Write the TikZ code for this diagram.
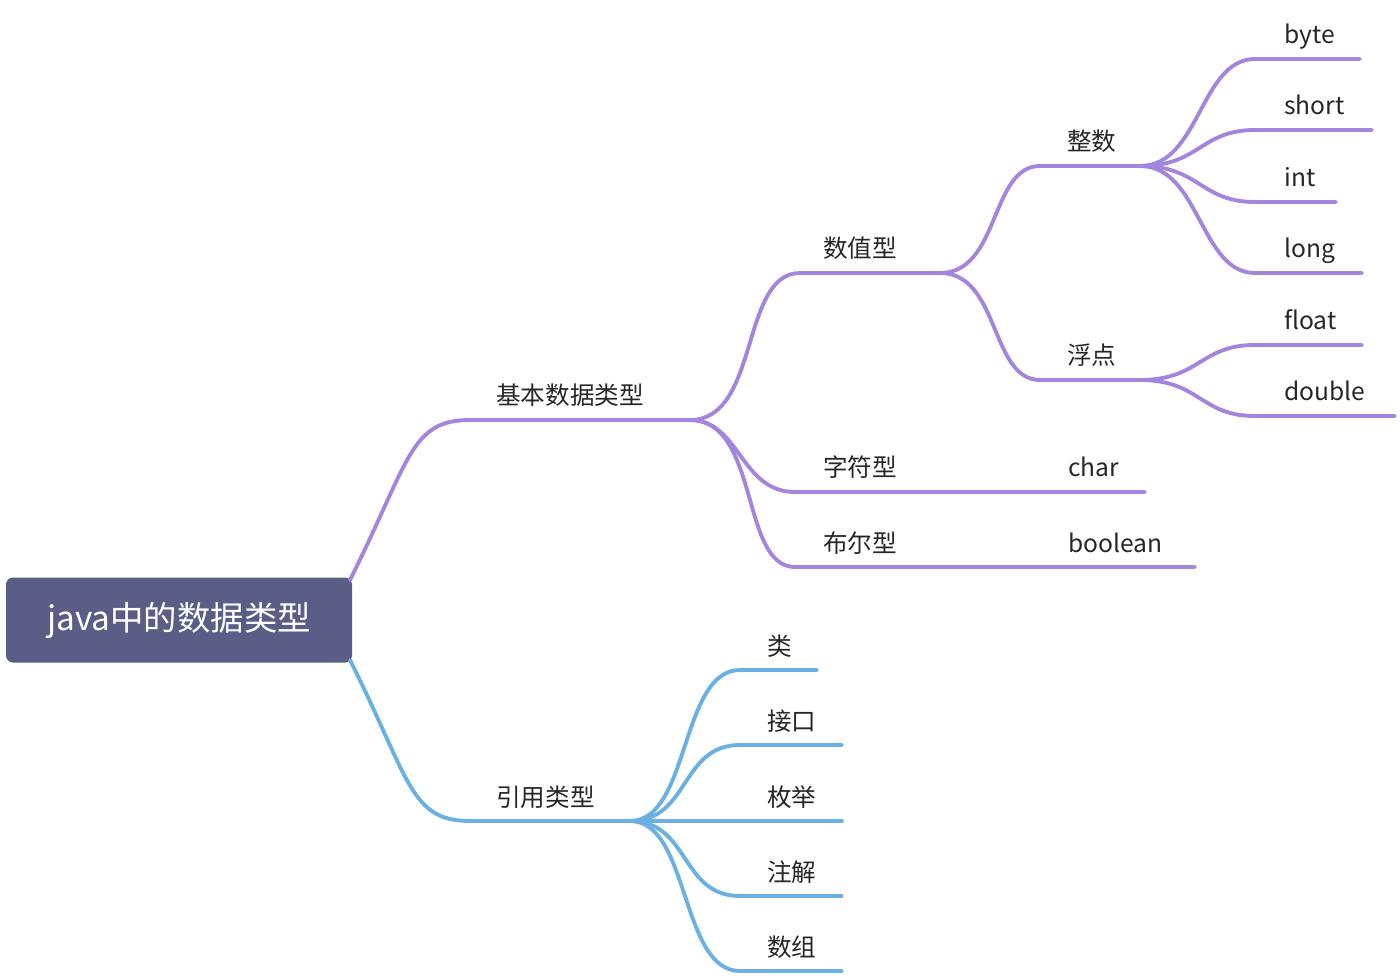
\documentclass[tikz,border=0pt]{standalone}
\usepackage{fontspec}
\setmainfont{Noto Sans CJK SC}
\usetikzlibrary{positioning}
\definecolor{rootcol}{HTML}{5A5E86}
\definecolor{purp}{HTML}{A485DD}
\definecolor{bluecol}{HTML}{6AB0E3}
\begin{document}
\begin{tikzpicture}[x=0.02cm,y=-0.02cm,line cap=round]
\tikzset{
  root/.style={fill=rootcol,rounded corners=4pt,text=white,inner sep=0pt,
    minimum width=346*0.02cm,minimum height=85*0.02cm,font=\fontsize{19}{22}\selectfont},
  lbl/.style={anchor=base west,inner sep=0pt,text=black!85,font=\fontsize{14}{16}\selectfont},
  pbr/.style={draw=purp,line width=2.2pt},
  bbr/.style={draw=bluecol,line width=2.2pt}
}
\useasboundingbox (0,0) rectangle (1400,976);

% root
\node[root] (java) at (179,620) {java中的数据类型};
\coordinate (jt) at (350,580);
\coordinate (jb) at (350,660);

% basic types
\coordinate (b0) at (470,420); \coordinate (b1) at (690,420);
\draw[pbr] (jt) .. controls (410,460) and (410,420) .. (b0) -- (b1);
\node[lbl] (basic) at (496,405) {基本数据类型};

% numeric, char, boolean
\coordinate (n0) at (800,273); \coordinate (n1) at (940,273);
\draw[pbr] (b1) .. controls (760,420) and (740,273) .. (n0) -- (n1);
\node[lbl] (num) at (823,258) {数值型};
\coordinate (c0) at (795,492); \coordinate (c1) at (1145,492);
\draw[pbr] (b1) .. controls (740,420) and (740,492) .. (c0) -- (c1);
\node[lbl] (chr) at (823,477) {字符型};
\node[lbl] (chrt) at (1068,477) {char};
\coordinate (o0) at (795,567); \coordinate (o1) at (1195,567);
\draw[pbr] (b1) .. controls (760,420) and (740,567) .. (o0) -- (o1);
\node[lbl] (bool) at (823,552) {布尔型};
\node[lbl] (boolt) at (1068,552) {boolean};

% integer, float
\coordinate (i0) at (1040,166); \coordinate (i1) at (1140,166);
\draw[pbr] (n1) .. controls (1000,273) and (990,166) .. (i0) -- (i1);
\node[lbl] (intg) at (1067,151) {整数};
\coordinate (f0) at (1040,380); \coordinate (f1) at (1140,380);
\draw[pbr] (n1) .. controls (1000,273) and (990,380) .. (f0) -- (f1);
\node[lbl] (flt) at (1067,365) {浮点};

% leaves
\foreach \y/\e/\t in {59/1360/byte,130/1372/short,202/1336/int,273/1362/long}{
  \draw[pbr] (i1) .. controls (1200,166) and (1200,\y) .. (1255,\y) -- (\e,\y);
  \node[lbl] at (1284,\y-15) {\t};
}
\foreach \y/\e/\t in {345/1362/float,416/1395/double}{
  \draw[pbr] (f1) .. controls (1200,380) and (1200,\y) .. (1255,\y) -- (\e,\y);
  \node[lbl] at (1284,\y-15) {\t};
}

% reference types
\coordinate (r0) at (470,821); \coordinate (r1) at (630,821);
\draw[bbr] (jb) .. controls (410,780) and (410,821) .. (r0) -- (r1);
\node[lbl] (ref) at (496,806) {引用类型};
\foreach \y/\e/\t in {670/817/类,745/842/接口,821/842/枚举,896/842/注解,971/842/数组}{
  \draw[bbr] (r1) .. controls (690,821) and (680,\y) .. (740,\y) -- (\e,\y);
  \node[lbl] at (767,\y-15) {\t};
}
\end{tikzpicture}
\end{document}
